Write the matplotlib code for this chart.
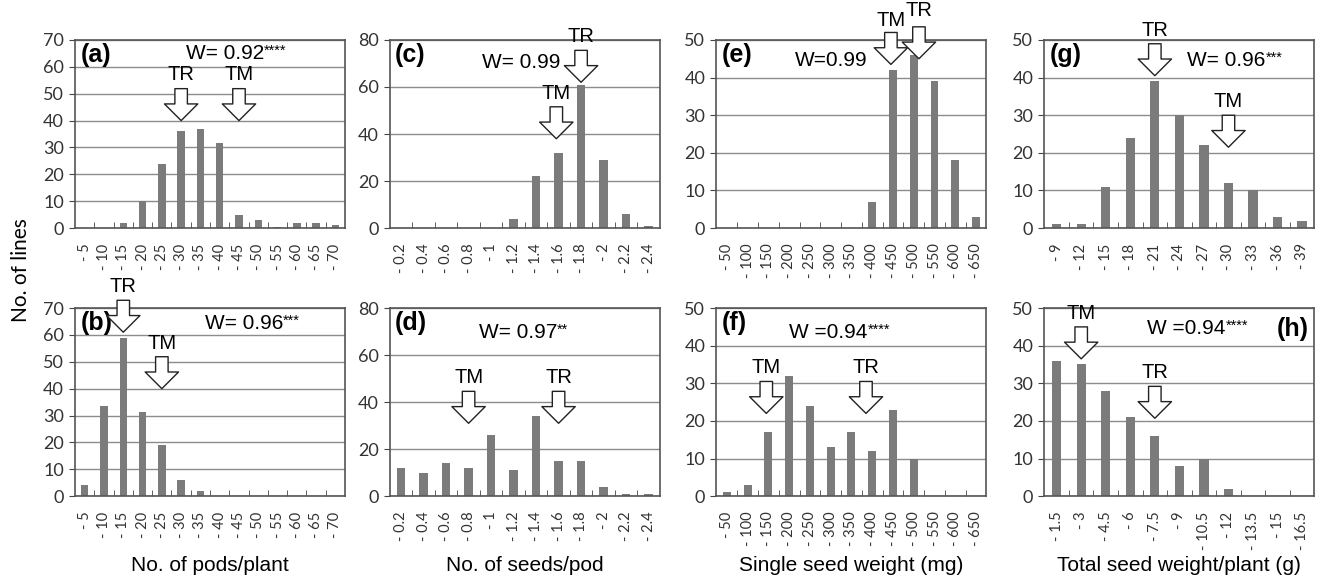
import matplotlib.pyplot as plt

plt.rcParams['font.family'] = ['Liberation Sans', 'DejaVu Sans']

# Category labels for each trait
pods_labels = ['- 5', '- 10', '- 15', '- 20', '- 25', '- 30', '- 35',
               '- 40', '- 45', '- 50', '- 55', '- 60', '- 65', '- 70']
seeds_labels = ['- 0.2', '- 0.4', '- 0.6', '- 0.8', '- 1', '- 1.2',
                '- 1.4', '- 1.6', '- 1.8', '- 2', '- 2.2', '- 2.4']
ssw_labels = ['- 50', '- 100', '- 150', '- 200', '- 250', '- 300', '- 350',
              '- 400', '- 450', '- 500', '- 550', '- 600', '- 650']
tsw_g_labels = ['- 9', '- 12', '- 15', '- 18', '- 21', '- 24', '- 27',
                '- 30', '- 33', '- 36', '- 39']
tsw_h_labels = ['- 1.5', '- 3', '- 4.5', '- 6', '- 7.5', '- 9', '- 10.5',
                '- 12', '- 13.5', '- 15', '- 16.5']

# No. of lines per class
pods_a = [0, 0, 2, 10, 24, 36, 37, 31.5, 5, 3, 0.5, 2, 2, 1]
pods_b = [4, 33.5, 59, 31.5, 19, 6, 2, 0, 0, 0, 0, 0, 0, 0]
seeds_c = [0, 0, 0, 0, 0, 4, 22, 32, 61, 29, 6, 1]
seeds_d = [12, 10, 14, 12, 26, 11, 34, 15, 15, 4, 1, 1]
ssw_e = [0, 0, 0, 0, 0, 0, 0, 7, 42, 46, 39, 18, 3]
ssw_f = [1, 3, 17, 32, 24, 13, 17, 12, 23, 10, 0, 0, 0]
tsw_g = [1, 1, 11, 24, 39, 30, 22, 12, 10, 3, 2]
tsw_h = [36, 35, 28, 21, 16, 8, 10, 2, 0, 0, 0]

# Shapiro-Wilk W and significance stars
w_text = ['W= 0.92', 'W= 0.96', 'W= 0.99', 'W= 0.97',
          'W=0.99', 'W =0.94', 'W= 0.96', 'W =0.94']
w_stars = ['****', '***', '', '**', '', '****', '***', '****']

# parent markers: (label, class position, value at arrow tip, text lift)
markers = [
    [('TR', 5, 40, 26), ('TM', 8, 40, 26)],
    [('TR', 2, 61, 26), ('TM', 4, 40, 26)],
    [('TR', 8, 62, 26), ('TM', 6.9, 38, 26)],
    [('TM', 3, 31, 26), ('TR', 7, 31, 26)],
    [('TM', 7.9, 43.5, 25), ('TR', 9.25, 45, 28)],
    [('TM', 1.9, 22, 26), ('TR', 6.7, 22, 26)],
    [('TR', 4, 40.5, 26), ('TM', 7, 21.5, 26)],
    [('TM', 1, 36.5, 26), ('TR', 4, 20.7, 26)],
]

panels = [
    ('(a)', pods_labels, pods_a, 70, 10),
    ('(b)', pods_labels, pods_b, 70, 10),
    ('(c)', seeds_labels, seeds_c, 80, 20),
    ('(d)', seeds_labels, seeds_d, 80, 20),
    ('(e)', ssw_labels, ssw_e, 50, 10),
    ('(f)', ssw_labels, ssw_f, 50, 10),
    ('(g)', tsw_g_labels, tsw_g, 50, 10),
    ('(h)', tsw_h_labels, tsw_h, 50, 10),
]
w_pos = [(0.41, 0.93), (0.48, 0.92), (0.34, 0.88), (0.33, 0.87),
         (0.29, 0.89), (0.27, 0.87), (0.53, 0.89), (0.38, 0.89)]
xlabels = ['No. of pods/plant', 'No. of seeds/pod',
           'Single seed weight (mg)', 'Total seed weight/plant (g)']

fig = plt.figure(figsize=(13.17, 5.79), dpi=100)
lefts = [0.057, 0.296, 0.544, 0.793]
bottoms = [0.606, 0.143]

for i, (tag, labels, counts, ymax, ystep) in enumerate(panels):
    col, row = i // 2, i % 2
    ax = fig.add_axes([lefts[col], bottoms[row], 0.205, 0.325])
    n = len(labels)
    ax.bar(range(n), counts, width=0.38, color='#7b7b7b', zorder=2)
    ax.set_xlim(-0.5, n - 0.5)
    ax.set_ylim(0, ymax)
    ax.set_yticks(range(0, ymax + 1, ystep))
    ax.yaxis.grid(True, color='#8c8c8c', lw=1)
    ax.set_axisbelow(True)
    ax.set_xticks(range(n))
    ax.set_xticklabels(labels, rotation=90, fontsize=10.5, family='Lato', color='#333333')
    ax.set_xticks([k + 0.5 for k in range(n - 1)], minor=True)
    ax.tick_params(axis='x', which='major', length=0, pad=11)
    ax.tick_params(axis='x', which='minor', direction='in', length=4, color='#444444')
    ax.tick_params(axis='y', direction='out', length=4, color='#444444', labelsize=13,
                   labelcolor='#333333', pad=4)
    for lbl in ax.get_yticklabels():
        lbl.set_family('Lato')
    for s in ax.spines.values():
        s.set_color('#555555')
        s.set_linewidth(1.2)

    if tag == '(h)':
        ax.text(0.98, 0.89, tag, transform=ax.transAxes, ha='right', va='center',
                fontsize=18, fontweight='bold')
    else:
        ax.text(0.02, 0.92, tag, transform=ax.transAxes, ha='left', va='center',
                fontsize=18, fontweight='bold')

    wx, wy = w_pos[i]
    t = ax.text(wx, wy, w_text[i], transform=ax.transAxes, ha='left', va='center', fontsize=15)
    if w_stars[i]:
        ax.annotate(w_stars[i], xy=(1, 1.0), xycoords=t, ha='left', va='top', fontsize=10.5)

    for name, xpos, tip, lift in markers[i]:
        ax.annotate('', xy=(xpos, tip), xytext=(0, 23), textcoords='offset points',
                    arrowprops=dict(arrowstyle='simple,head_length=1.2,head_width=2.4,tail_width=0.9',
                                    fc='white', ec='#222222', lw=1, shrinkA=0, shrinkB=0,
                                    mutation_scale=10), zorder=5)
        ax.annotate(name, xy=(xpos, tip), xytext=(0, lift), textcoords='offset points',
                    ha='center', va='bottom', fontsize=14.5, zorder=5)

for col, lab in enumerate(xlabels):
    fig.text(lefts[col] + 0.1025, 0.024, lab, ha='center', va='center', fontsize=15)

fig.text(0.016, 0.534, 'No. of lines', rotation=90, ha='center', va='center',
         fontsize=15, family='Lato')

plt.savefig('out.png', dpi=100)
